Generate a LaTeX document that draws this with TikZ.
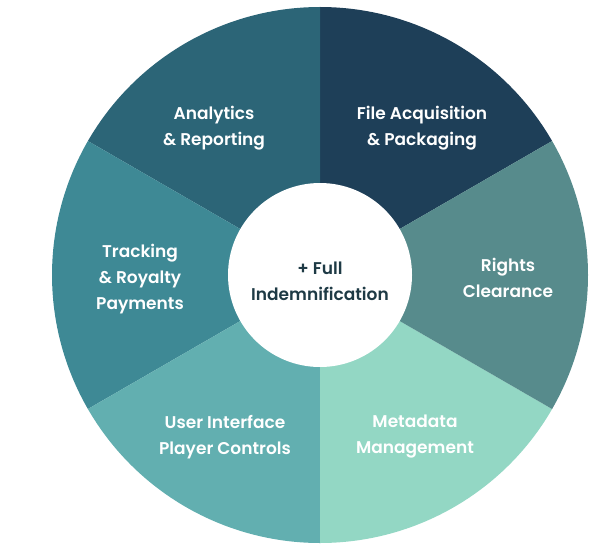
\documentclass[tikz,border=0pt]{standalone}
\usepackage{fontspec}
\setmainfont{Poppins}[UprightFont={* SemiBold}]
\definecolor{cFile}{HTML}{1E3F58}
\definecolor{cAna}{HTML}{2C6577}
\definecolor{cTrack}{HTML}{3E8995}
\definecolor{cUI}{HTML}{62AFB0}
\definecolor{cMeta}{HTML}{93D7C4}
\definecolor{cRights}{HTML}{578B8C}
\definecolor{cText}{HTML}{1E3A45}
\begin{document}
\begin{tikzpicture}[x=1pt,y=1pt,
  lbl/.style={text=white,align=center,font=\fontsize{17}{26}\selectfont},
  hub/.style={circle,fill=white,minimum size=184pt,inner sep=0pt},
  hubtext/.style={text=cText,align=center,font=\fontsize{17}{26}\selectfont}]
\useasboundingbox (0,0) rectangle (604,550);
\coordinate (c) at (320,275);
\def\R{268}
\fill[cFile]   (c) -- ++(30:\R)  arc[start angle=30,end angle=90,radius=\R] -- cycle;
\fill[cAna]    (c) -- ++(90:\R)  arc[start angle=90,end angle=150,radius=\R] -- cycle;
\fill[cTrack]  (c) -- ++(150:\R) arc[start angle=150,end angle=210,radius=\R] -- cycle;
\fill[cUI]     (c) -- ++(210:\R) arc[start angle=210,end angle=270,radius=\R] -- cycle;
\fill[cMeta]   (c) -- ++(270:\R) arc[start angle=270,end angle=330,radius=\R] -- cycle;
\fill[cRights] (c) -- ++(-30:\R) arc[start angle=-30,end angle=30,radius=\R] -- cycle;
\node[hub] (center) at (c) {};
\node[hubtext] (centertext) at (320,269) {+ Full\\Indemnification};
\node[lbl] (ana) at (214,422) {Analytics\\\& Reporting};
\node[lbl] (file) at (422,422) {File Acquisition\\\& Packaging};
\node[lbl] (track) at (140,271) {Tracking\\\& Royalty\\Payments};
\node[lbl] (rights) at (508,272) {Rights\\Clearance};
\node[lbl] (ui) at (225,113) {User Interface\\Player Controls};
\node[lbl] (meta) at (415,113) {Metadata\\Management};
\end{tikzpicture}
\end{document}
